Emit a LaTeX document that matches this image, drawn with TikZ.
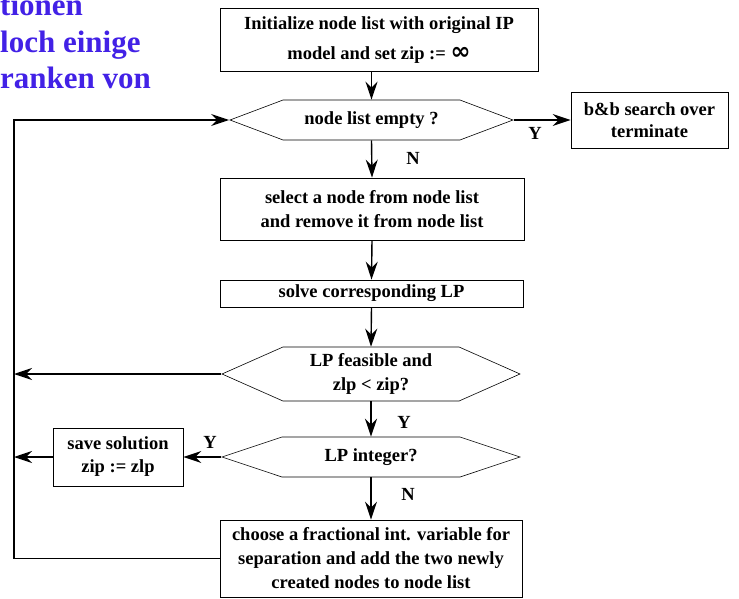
\documentclass[tikz,border=0pt]{standalone}
\usepackage{amsmath}
\usepackage{amssymb}
\usepackage{fontspec}
\setmainfont{Liberation Serif}
\newfontfamily\symbolfont{DejaVu Sans}
\usetikzlibrary{shapes.symbols,arrows.meta}

\definecolor{introblue}{RGB}{66,33,230}

\tikzset{
  box/.style={draw,rectangle,line width=0.8pt,align=center,inner sep=0pt},
  decision/.style={draw,signal,signal to=west and east,line width=0.6pt,inner sep=0pt,align=center},
  flow/.style={line width=1.4pt,-{Stealth[length=18pt,width=12pt,inset=6pt]}},
  tag/.style={inner sep=0pt}
}

\begin{document}
\begin{tikzpicture}[x=1pt,y=-1pt,every node/.style={font=\bfseries\fontsize{18.5}{24}\selectfont}]
  \useasboundingbox (0,0) rectangle (739,599);

  % text of the slide, cut off on the left
  \begin{scope}[every node/.style={anchor=base west,inner sep=0pt,text=introblue,font=\bfseries\fontsize{31}{36}\selectfont}]
    \node (intro1) at (0,16) {tionen};
    \node (intro2) at (0,53) {loch einige};
    \node (intro3) at (0,89) {ranken von};
  \end{scope}

  \node[box,minimum width=318pt,minimum height=63pt] (init) at (379,39.5)
    {\rule{0pt}{14pt}Initialize node list with original IP\\[6pt] model and set zip := {\symbolfont\fontsize{24}{24}\selectfont ∞}};
  \node[decision,minimum width=283pt,minimum height=40pt,signal pointer angle=41.3] (empty) at (371.5,120) {node list empty ?};
  \node[box,minimum width=157pt,minimum height=56pt] (bbsearch) at (649.5,120) {b\&b search over\\[-2pt] terminate};
  \node[box,minimum width=304pt,minimum height=62pt] (select) at (372,209)
    {select a node from node list\\ and remove it from node list};
  \node[box,minimum width=303pt,minimum height=27pt] (solve) at (371.5,293.5) {solve corresponding LP};
  \node[decision,minimum width=298pt,minimum height=54pt,signal pointer angle=47.8] (feas) at (371,374)
    {LP feasible and\\ zlp < zip?};
  \node[decision,minimum width=298pt,minimum height=40pt,signal pointer angle=36.9] (integ) at (371,457) {LP integer?};
  \node[box,minimum width=130pt,minimum height=58pt] (save) at (118,457) {save solution\\[-1pt] zip := zlp};
  \node[box,minimum width=302pt,minimum height=77pt] (choose) at (371,558.5)
    {choose a fractional int. variable for\\ separation and add the two newly\\ created nodes to node list};

  \node[tag] (yes1) at (535,133) {Y};
  \node[tag] (no1) at (413,158) {N};
  \node[tag] (yes2) at (404,422) {Y};
  \node[tag] (yes3) at (210,442) {Y};
  \node[tag] (no2) at (408,494) {N};

  \coordinate (rail) at (14,0);

  \draw[flow] (init.south -| empty.north) -- (empty.north);
  \draw[flow] (empty.east) -- (bbsearch.west);
  \draw[flow] (empty.south) -- (select.north);
  \draw[flow] (select.south) -- (solve.north);
  \draw[flow] (solve.south) -- (feas.north);
  \draw[flow] (feas.south) -- (integ.north);
  \draw[flow] (integ.south) -- (choose.north);
  \draw[flow] (integ.west) -- (save.east);
  \draw[flow] (save.west) -- (save.west -| rail);
  \draw[flow] (feas.west) -- (feas.west -| rail);
  \draw[flow] (choose.west) -| (rail |- empty.west) -- (empty.west);

\end{tikzpicture}
\end{document}
